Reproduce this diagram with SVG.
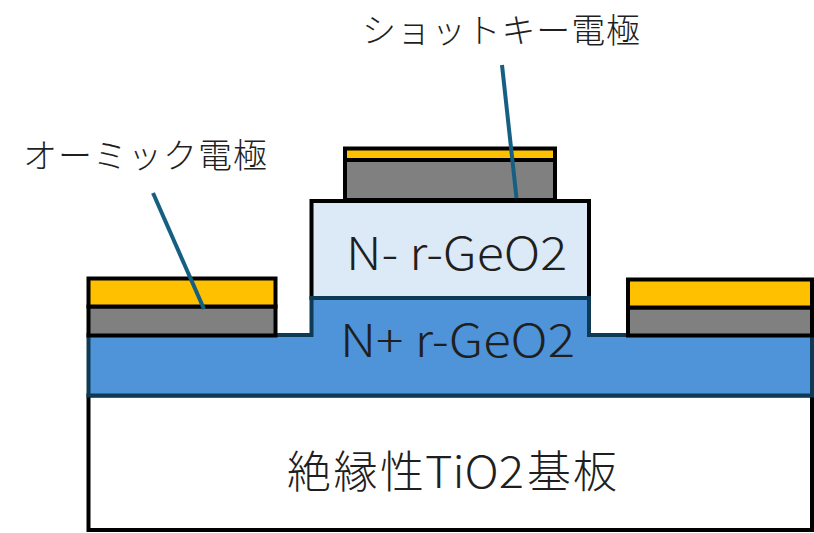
<svg xmlns="http://www.w3.org/2000/svg" width="814" height="533" viewBox="0 0 814 533">
<style>
.k{stroke:#000;stroke-width:4;stroke-linejoin:miter}
.au{fill:#ffc000}.ti{fill:#808080}
.l{stroke:#156082;stroke-width:4;fill:none}
text{font-family:"Noto Sans CJK JP","Noto Sans",sans-serif;font-weight:300;fill:#1f1f1f}
</style>
<rect width="814" height="533" fill="#fff"/>
<g id="substrate">
<rect class="k" x="88.500" y="395.500" width="723.500" height="134.500" fill="#fff"/>
<text y="488" font-size="44"><tspan x="287" textLength="137">絶縁性</tspan><tspan x="425" textLength="99" lengthAdjust="spacingAndGlyphs">TiO2</tspan><tspan x="527" textLength="90">基板</tspan></text>
</g>
<g id="n-minus">
<rect class="k" x="311.500" y="201" width="277.500" height="97" fill="#dce9f6"/>
<text x="346" y="270" font-size="45" textLength="221" lengthAdjust="spacingAndGlyphs">N- r-GeO2</text>
</g>
<g id="n-plus">
<path d="M88.500 335H311.500V298H589V335H812V395.500H88.500Z" fill="#4f94d8" stroke="#0f3a55" stroke-width="4"/>
<text x="340" y="357" font-size="45" textLength="235" lengthAdjust="spacingAndGlyphs">N+ r-GeO2</text>
</g>
<g id="ohmic-left">
<rect class="k ti" x="88.500" y="306.500" width="187" height="29"/>
<rect class="k au" x="88.500" y="278.500" width="187" height="28"/>
</g>
<g id="ohmic-right">
<rect class="k ti" x="628" y="307.500" width="184" height="28"/>
<rect class="k au" x="628" y="279.500" width="184" height="28"/>
</g>
<g id="schottky">
<rect class="k ti" x="345" y="160" width="210" height="40"/>
<rect class="k au" x="345" y="148.500" width="210" height="11.500"/>
</g>
<g id="connectors">
<line class="l" x1="502" y1="65" x2="516.500" y2="198"/>
<line class="l" x1="153" y1="193" x2="204" y2="309"/>
</g>
<g id="label-schottky"><text x="362" y="43" font-size="34" textLength="278">ショットキー電極</text></g>
<g id="label-ohmic"><text x="23" y="168" font-size="34" textLength="244">オーミック電極</text></g>
</svg>
